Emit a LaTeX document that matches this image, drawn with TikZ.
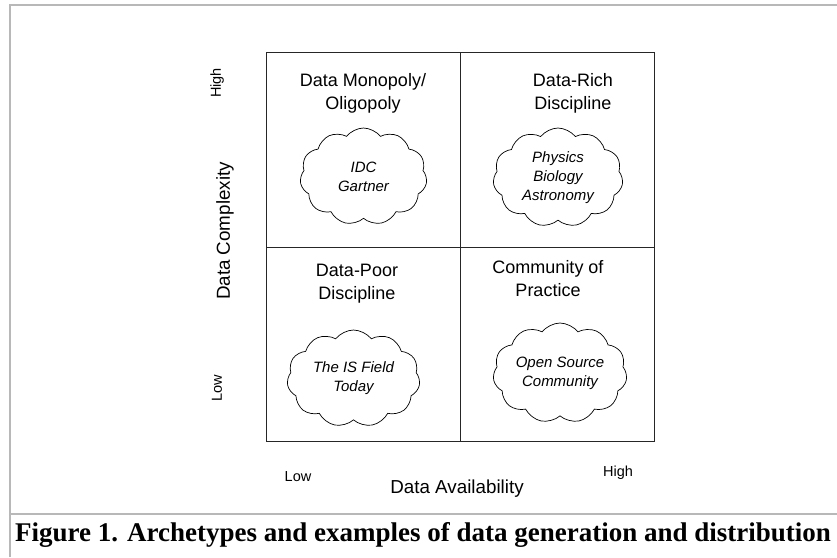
\documentclass[tikz,border=0pt]{standalone}
\usepackage{fontspec}
\setmainfont{Liberation Serif}
\setsansfont{Liberation Sans}
\usetikzlibrary{shapes.symbols}
\begin{document}
\begin{tikzpicture}[x=1pt,y=-1pt,
  frameline/.style={draw=black!28,line width=1.4pt},
  boxline/.style={draw=black!85,line width=1pt},
  title/.style={font=\sffamily\fontsize{18}{23}\selectfont,align=center,inner sep=0pt},
  axis/.style={font=\sffamily\fontsize{18.8}{22}\selectfont,inner sep=0pt},
  tick/.style={font=\sffamily\fontsize{14.5}{17}\selectfont,inner sep=0pt},
  puff/.style={cloud,cloud puffs=11,cloud puff arc=105,draw=black,line width=0.7pt,inner sep=0pt},
  ctext/.style={font=\sffamily\itshape\fontsize{15}{19}\selectfont,align=center,inner sep=0pt}]
\useasboundingbox (0,0) rectangle (837,557);
% outer frame
\coordinate (fa) at (10,557);
\coordinate (fb) at (10,5);
\coordinate (fc) at (837,5);
\coordinate (fd) at (10,514);
\coordinate (fe) at (837,514);
\draw[frameline] (fa) -- (fb) -- (fc);
\draw[frameline] (fd) -- (fe);
% quadrant box
\coordinate (q1) at (266,52);
\coordinate (q2) at (654,441);
\coordinate (mt) at (460,52);
\coordinate (mb) at (460,441);
\coordinate (ml) at (266,247);
\coordinate (mr) at (654,247);
\draw[boxline] (q1) rectangle (q2);
\draw[boxline] (mt) -- (mb);
\draw[boxline] (ml) -- (mr);
% titles
\node[title] (t1) at (363,93.5) {Data Monopoly/\\Oligopoly};
\node[title] (t2) at (573,93.5) {Data-Rich\\Discipline};
\node[title] (t3) at (357,283.5) {Data-Poor\\Discipline};
\node[title] (t4) at (548,279) {Community of\\Practice};
% clouds
\node[puff,minimum width=127pt,minimum height=97pt] (c1) at (363.5,176.5) {};
\node[puff,minimum width=130pt,minimum height=99pt] (c2) at (558,177.5) {};
\node[puff,minimum width=133pt,minimum height=97pt] (c3) at (353.5,378.5) {};
\node[puff,minimum width=134pt,minimum height=100pt] (c4) at (560,373) {};
\node[ctext] (x1) at (c1.center) {IDC\\Gartner};
\node[ctext] (x2) at (c2.center) {Physics\\Biology\\Astronomy};
\node[ctext] (x3) at (c3.center) {The IS Field\\Today};
\node[ctext] (x4) at (c4.center) {Open Source\\Community};
% axes
\node[tick,rotate=90] (yh) at (217,83) {High};
\node[axis,rotate=90] (yl) at (225,231) {Data Complexity};
\node[tick,rotate=90] (ylo) at (217,388) {Low};
\node[tick] (xl) at (298,477) {Low};
\node[axis] (xa) at (457,489) {Data Availability};
\node[tick] (xh) at (618,473) {High};
% caption
\node[font=\bfseries\fontsize{27}{30}\selectfont,inner sep=0pt] (cap) at (423,535) {Figure 1. Archetypes and examples of data generation and distribution};
\end{tikzpicture}
\end{document}
